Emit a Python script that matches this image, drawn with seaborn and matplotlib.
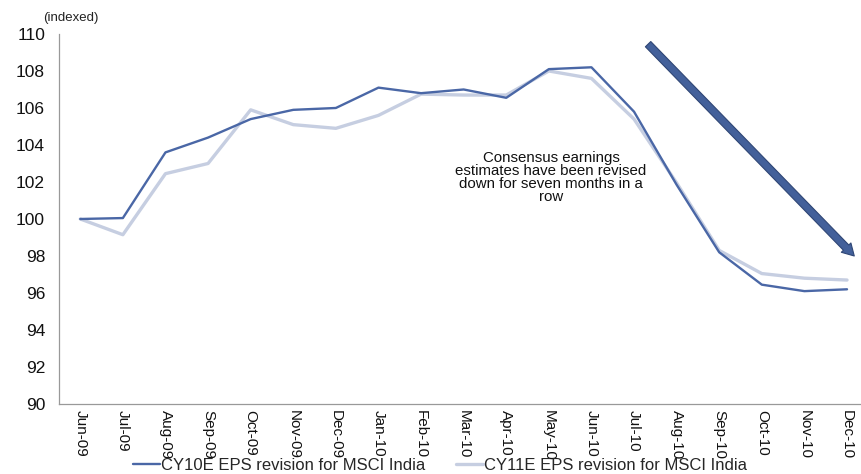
import matplotlib
matplotlib.use("Agg")
import matplotlib.pyplot as plt
import seaborn as sns
import pandas as pd
import numpy as np

# Monthly EPS revision indices (Jun-09 = 100)
months = ["Jun-09", "Jul-09", "Aug-09", "Sep-09", "Oct-09", "Nov-09", "Dec-09",
          "Jan-10", "Feb-10", "Mar-10", "Apr-10", "May-10", "Jun-10", "Jul-10",
          "Aug-10", "Sep-10", "Oct-10", "Nov-10", "Dec-10"]
cy10e = [100.0, 100.05, 103.6, 104.4, 105.4, 105.9, 106.0, 107.1, 106.8, 107.0,
         106.55, 108.1, 108.2, 105.8, 101.85, 98.2, 96.45, 96.1, 96.2]
cy11e = [100.0, 99.15, 102.45, 103.0, 105.9, 105.1, 104.9, 105.6, 106.75, 106.7,
         106.7, 108.0, 107.6, 105.4, 101.95, 98.3, 97.05, 96.8, 96.7]
series_names = ["CY10E EPS revision for MSCI India", "CY11E EPS revision for MSCI India"]
y_ticks = [90, 92, 94, 96, 98, 100, 102, 104, 106, 108, 110]
note = "Consensus earnings\nestimates have been revised\ndown for seven months in a\nrow"

sns.set_theme(style="white")
plt.rcParams["font.family"] = ["Liberation Sans", "DejaVu Sans"]

df = pd.DataFrame({
    "idx": list(range(len(months))) * 2,
    "value": cy10e + cy11e,
    "series": [series_names[0]] * len(months) + [series_names[1]] * len(months),
})

fig = plt.figure(figsize=(8.61, 4.74), dpi=100)
ax = fig.add_axes([0.0685, 0.1477, 0.940, 0.7806])

sns.lineplot(data=df[df.series == series_names[0]], x="idx", y="value",
             color="#4A67A6", linewidth=1.7, ax=ax, label=series_names[0])
sns.lineplot(data=df[df.series == series_names[1]], x="idx", y="value",
             color="#C6CEE1", linewidth=2.4, ax=ax, label=series_names[1])
# keep the dark line on top
ax.lines[0].set_zorder(3)

ax.set_xlim(-0.5, len(months) - 0.5)
ax.set_ylim(90, 110)
ax.set_yticks(y_ticks)
ax.set_yticklabels([str(v) for v in y_ticks], fontsize=12.5, color="#111111")
ax.set_xticks(range(len(months)))
ax.set_xticklabels(months, rotation=-90, fontsize=11, color="#111111")
ax.set_xticks(np.arange(-0.5, len(months), 1), minor=True)
ax.tick_params(axis="x", which="major", length=0, pad=4)
ax.tick_params(axis="x", which="minor", length=4, color="#999999", width=0.8, direction="out")
ax.tick_params(axis="y", length=4, color="#999999", width=0.8, direction="out", pad=6)
ax.set_xlabel("")
ax.set_ylabel("")
for s in ["top", "right"]:
    ax.spines[s].set_visible(False)
for s in ["left", "bottom"]:
    ax.spines[s].set_color("#999999")
    ax.spines[s].set_linewidth(0.9)

fig.text(0.05, 0.963, "(indexed)", fontsize=9.5, color="#222222", ha="left", va="center")

ax.text(11.05, 102.25, note, ha="center", va="center", fontsize=10.8,
        linespacing=0.92, color="#111111")

ax.annotate("", xy=(18.17, 98.0), xytext=(13.33, 109.45),
            arrowprops=dict(arrowstyle="simple,head_length=0.7,head_width=0.8,tail_width=0.45",
                            fc="#43609A", ec="#2F4675", lw=0.8, shrinkA=0, shrinkB=0),
            annotation_clip=False)

ax.get_legend().remove()
handles, labels = ax.get_legend_handles_labels()
fig.legend(handles, labels, loc="lower center", bbox_to_anchor=(0.511, 0.002), ncol=2,
           frameon=False, fontsize=12, handlelength=1.6, handletextpad=0.05,
           columnspacing=1.9, borderaxespad=0, borderpad=0)

fig.savefig("out.png", dpi=100)
